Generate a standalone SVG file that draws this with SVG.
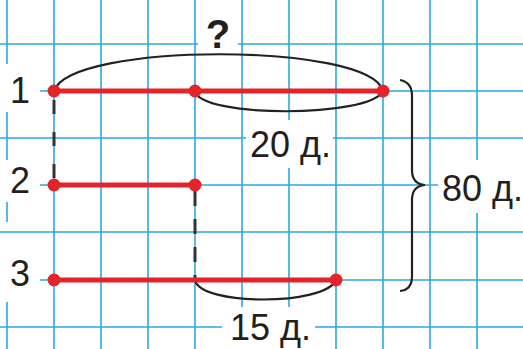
<svg xmlns="http://www.w3.org/2000/svg" width="523" height="349" viewBox="0 0 523 349">
<style>
.grid line{stroke:#29a9e0;stroke-width:1.6}
.mask{fill:#fff}
.seg{stroke:#e3242b;stroke-width:5;stroke-linecap:butt}
.dot{fill:#e3242b}
.arc{fill:none;stroke:#222;stroke-width:2.2}
.dash{fill:none;stroke:#333;stroke-width:3}
.lbl{font-family:"Liberation Sans",Arial,sans-serif;font-size:36px;fill:#231f20}
</style>
<rect width="523" height="349" fill="#fff"/>
<g id="grid" class="grid">
<line x1="7" y1="0" x2="7" y2="64"/><line x1="7" y1="112" x2="7" y2="160"/><line x1="7" y1="202" x2="7" y2="222"/><line x1="7" y1="302" x2="7" y2="349"/>
<line x1="54" y1="0" x2="54" y2="349"/>
<line x1="101" y1="0" x2="101" y2="349"/>
<line x1="148" y1="0" x2="148" y2="349"/>
<line x1="195" y1="0" x2="195" y2="349"/>
<line x1="242" y1="0" x2="242" y2="349"/>
<line x1="289" y1="0" x2="289" y2="349"/>
<line x1="336" y1="0" x2="336" y2="349"/>
<line x1="383" y1="0" x2="383" y2="349"/>
<line x1="430" y1="0" x2="430" y2="349"/>
<line x1="477" y1="0" x2="477" y2="349"/>
<line x1="0" y1="44" x2="523" y2="44"/>
<line x1="40" y1="91" x2="523" y2="91"/>
<line x1="0" y1="138" x2="523" y2="138"/>
<line x1="40" y1="185" x2="523" y2="185"/>
<line x1="0" y1="232" x2="523" y2="232"/>
<line x1="40" y1="280" x2="523" y2="280"/>
<line x1="0" y1="327" x2="523" y2="327"/>
</g>
<g id="masks">
<rect class="mask" x="198" y="4" width="40" height="46"/>
<rect class="mask" x="246" y="120" width="87" height="48"/>
<rect class="mask" x="222" y="307" width="93" height="42"/>
<rect class="mask" x="438" y="160" width="85" height="53"/>
</g>
<g id="connectors">
<path class="dash" d="M54,97 V185" stroke-dasharray="14 18" stroke-dashoffset="-3"/>
<path class="dash" d="M195,191 V280" stroke-dasharray="15 13"/>
<path class="arc" d="M54,91 C70,42 370,42 383,91"/>
<path class="arc" d="M195,91 C200,118 370,118 383,91"/>
<path class="arc" d="M195,280 C200,306 325,306 336,280"/>
<path class="arc" stroke-width="2.6" d="M400,80 Q412,82 412,96 V170 Q412,184 425,185 Q412,186 412,200 V276 Q412,290 400,291"/>
</g>
<g id="segment1">
<line class="seg" x1="54" y1="91" x2="383" y2="91"/>
<circle class="dot" cx="54" cy="91" r="6.5"/>
<circle class="dot" cx="195" cy="91" r="6.5"/>
<circle class="dot" cx="383" cy="91" r="6.5"/>
<text class="lbl" x="20" y="103" text-anchor="middle" font-size="37">1</text>
</g>
<g id="segment2">
<line class="seg" x1="54" y1="185" x2="195" y2="185"/>
<circle class="dot" cx="54" cy="185" r="6.5"/>
<circle class="dot" cx="195" cy="185" r="6.5"/>
<text class="lbl" x="20" y="193" text-anchor="middle" font-size="37">2</text>
</g>
<g id="segment3">
<line class="seg" x1="54" y1="280" x2="336" y2="280"/>
<circle class="dot" cx="54" cy="280" r="6.5"/>
<circle class="dot" cx="336" cy="280" r="6.5"/>
<text class="lbl" x="20" y="286" text-anchor="middle" font-size="37">3</text>
</g>
<g id="label-question"><text class="lbl" x="218" y="48" text-anchor="middle" font-weight="bold" style="font-size:40px">?</text></g>
<g id="label-20"><text class="lbl" x="250" y="157">20 д.</text></g>
<g id="label-15"><text class="lbl" x="230" y="340">15 д.</text></g>
<g id="label-80"><text class="lbl" x="442" y="201">80 д.</text></g>
</svg>
